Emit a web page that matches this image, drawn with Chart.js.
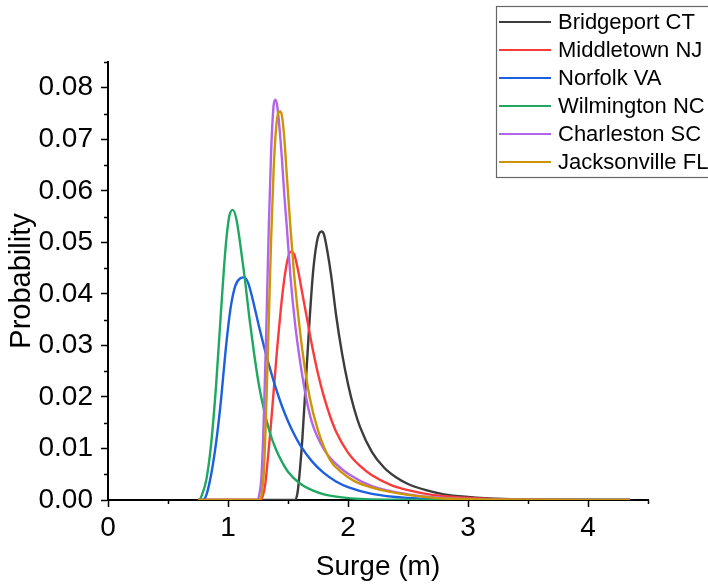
<!DOCTYPE html>
<html>
<head>
<meta charset="utf-8">
<script src="https://cdn.jsdelivr.net/npm/chart.js@4/dist/chart.umd.min.js"></script>
<style>
html,body{margin:0;padding:0;background:#fff;}
canvas{display:block;}
</style>
</head>
<body>
<canvas id="c" width="708" height="585"></canvas>
<script>
// ---- data ----
const seriesNames = ["Bridgeport CT", "Middletown NJ", "Norfolk VA", "Wilmington NC", "Charleston SC", "Jacksonville FL"];
const seriesColors = ["#3c3c3c", "#fa3b3b", "#1c60e0", "#20a862", "#b265ea", "#cc9505"];

const bridgeportX = [0.75, 1.56, 1.58, 1.60, 1.62, 1.65, 1.68, 1.71, 1.74, 1.76, 1.78, 1.80, 1.83, 1.86, 1.90, 1.95, 2.00, 2.05, 2.10, 2.20, 2.30, 2.40, 2.50, 2.65, 2.80, 3.00, 3.30, 3.70, 4.35];
const bridgeportY = [0, 0, 0.0015, 0.006, 0.012, 0.0235, 0.035, 0.0445, 0.050, 0.0517, 0.0521, 0.0515, 0.048, 0.0435, 0.036, 0.0285, 0.0225, 0.0178, 0.0142, 0.0093, 0.0063, 0.0044, 0.0031, 0.0019, 0.0011, 0.0006, 0.0002, 0.00005, 0];

const middletownX = [0.75, 1.27, 1.29, 1.31, 1.33, 1.35, 1.38, 1.41, 1.44, 1.47, 1.50, 1.525, 1.55, 1.58, 1.62, 1.66, 1.70, 1.75, 1.80, 1.85, 1.90, 2.00, 2.10, 2.20, 2.35, 2.50, 2.70, 3.00, 3.40, 4.35];
const middletownY = [0, 0, 0.0008, 0.003, 0.0075, 0.0125, 0.021, 0.0295, 0.037, 0.043, 0.047, 0.0482, 0.0478, 0.045, 0.040, 0.035, 0.030, 0.0245, 0.020, 0.0163, 0.0133, 0.0092, 0.0066, 0.0048, 0.003, 0.0019, 0.001, 0.0004, 0.0001, 0];

const norfolkX = [0.75, 0.79, 0.82, 0.86, 0.90, 0.94, 0.98, 1.02, 1.06, 1.10, 1.135, 1.17, 1.21, 1.25, 1.30, 1.35, 1.40, 1.45, 1.50, 1.55, 1.60, 1.70, 1.80, 1.90, 2.00, 2.20, 2.50, 2.80, 3.20, 4.35];
const norfolkY = [0, 0, 0.001, 0.005, 0.011, 0.019, 0.029, 0.037, 0.0415, 0.0430, 0.0432, 0.042, 0.0385, 0.0345, 0.0298, 0.0255, 0.0216, 0.0182, 0.0153, 0.0128, 0.0107, 0.0075, 0.0052, 0.0036, 0.0025, 0.0012, 0.0004, 0.00015, 0.00003, 0];

const wilmingtonX = [0.75, 0.76, 0.78, 0.82, 0.86, 0.90, 0.94, 0.98, 1.01, 1.04, 1.07, 1.10, 1.14, 1.18, 1.22, 1.26, 1.30, 1.35, 1.40, 1.45, 1.50, 1.60, 1.70, 1.80, 1.95, 2.10, 2.40, 2.80, 4.35];
const wilmingtonY = [0, 0, 0.0008, 0.004, 0.011, 0.022, 0.036, 0.049, 0.055, 0.0563, 0.0545, 0.050, 0.043, 0.035, 0.028, 0.022, 0.0175, 0.013, 0.0098, 0.0074, 0.0055, 0.0032, 0.0019, 0.0011, 0.0005, 0.0002, 0.00005, 0, 0];

const charlestonX = [0.75, 1.24, 1.26, 1.28, 1.30, 1.32, 1.34, 1.36, 1.38, 1.395, 1.41, 1.43, 1.45, 1.47, 1.49, 1.52, 1.56, 1.60, 1.65, 1.70, 1.80, 1.90, 2.00, 2.20, 2.50, 2.80, 3.20, 4.35];
const charlestonY = [0, 0, 0.001, 0.005, 0.017, 0.034, 0.053, 0.068, 0.0765, 0.0777, 0.0765, 0.072, 0.066, 0.059, 0.053, 0.0435, 0.034, 0.027, 0.020, 0.015, 0.0098, 0.0070, 0.0051, 0.0027, 0.0011, 0.0004, 0.0001, 0];

const jacksonvilleX = [0.75, 1.26, 1.28, 1.30, 1.32, 1.34, 1.36, 1.38, 1.40, 1.42, 1.435, 1.45, 1.47, 1.49, 1.52, 1.55, 1.58, 1.62, 1.68, 1.75, 1.85, 1.95, 2.05, 2.20, 2.50, 2.80, 3.20, 4.35];
const jacksonvilleY = [0, 0, 0.001, 0.006, 0.019, 0.035, 0.051, 0.064, 0.072, 0.0752, 0.0754, 0.0745, 0.070, 0.063, 0.053, 0.044, 0.037, 0.029, 0.020, 0.0135, 0.0078, 0.0053, 0.0037, 0.0024, 0.0010, 0.0003, 0.0001, 0];

const xTicks = [0, 1, 2, 3, 4];
const yTicks = [0, 0.01, 0.02, 0.03, 0.04, 0.05, 0.06, 0.07, 0.08];

// ---- build datasets ----
const xs = [bridgeportX, middletownX, norfolkX, wilmingtonX, charlestonX, jacksonvilleX];
const ys = [bridgeportY, middletownY, norfolkY, wilmingtonY, charlestonY, jacksonvilleY];
const datasets = seriesNames.map((name, i) => ({
  label: name,
  data: xs[i].map((x, j) => ({x: x, y: ys[i][j]})),
  borderColor: seriesColors[i],
  backgroundColor: seriesColors[i],
  borderWidth: 2.4,
  pointRadius: 0,
  fill: false,
  cubicInterpolationMode: 'monotone',
  order: seriesNames.length - i
}));

const FONT = "'Liberation Sans', Arial, sans-serif";

const minorTicks = {
  id: 'minorTicks',
  afterDraw(chart) {
    const ctx = chart.ctx;
    const xs_ = chart.scales.x, ys_ = chart.scales.y;
    const area = chart.chartArea;
    ctx.save();
    ctx.strokeStyle = '#000';
    ctx.lineWidth = 1.5;
    for (let v = 0.5; v <= 4.5 + 1e-9; v += 1) {
      const px = Math.round(xs_.getPixelForValue(v)) + 0.5;
      ctx.beginPath(); ctx.moveTo(px, area.bottom); ctx.lineTo(px, area.bottom + 4); ctx.stroke();
    }
    for (let v = 0.005; v <= 0.085 + 1e-9; v += 0.01) {
      const py = Math.round(ys_.getPixelForValue(v)) + 0.5;
      ctx.beginPath(); ctx.moveTo(area.left, py); ctx.lineTo(area.left - 4, py); ctx.stroke();
    }
    ctx.restore();
  }
};

const boxLegend = {
  id: 'boxLegend',
  afterDraw(chart) {
    const ctx = chart.ctx;
    ctx.save();
    ctx.fillStyle = '#fff';
    ctx.fillRect(496, 6, 240, 171);
    ctx.strokeStyle = '#666';
    ctx.lineWidth = 1.2;
    ctx.strokeRect(496.5, 6.5, 240, 171);
    ctx.font = '22px ' + FONT;
    ctx.textBaseline = 'middle';
    ctx.textAlign = 'left';
    chart.data.datasets.forEach((ds, i) => {
      const y = 22 + i * 28;
      ctx.strokeStyle = ds.borderColor;
      ctx.lineWidth = 2;
      ctx.beginPath(); ctx.moveTo(499, y); ctx.lineTo(551, y); ctx.stroke();
      ctx.fillStyle = '#000';
      ctx.fillText(ds.label, 558, y + 1);
    });
    ctx.restore();
  }
};

new Chart(document.getElementById('c'), {
  type: 'line',
  data: { datasets: datasets },
  options: {
    responsive: false,
    animation: false,
    layout: { padding: { left: 0, right: 60, top: 62, bottom: 0 } },
    plugins: { legend: { display: false }, tooltip: { enabled: false } },
    scales: {
      x: {
        type: 'linear',
        min: 0, max: 4.5,
        afterFit(scale) { scale.height = 85; },
        afterBuildTicks(scale) { scale.ticks = xTicks.map(v => ({value: v})); },
        ticks: { font: { family: FONT, size: 28 }, color: '#000', padding: 4, maxRotation: 0,
                 callback: v => String(v) },
        grid: { display: true, drawOnChartArea: false, drawTicks: true, tickLength: 7, tickColor: '#000', tickWidth: 1.5 },
        border: { display: true, color: '#000', width: 2 },
        title: { display: true, text: 'Surge (m)', color: '#000', font: { family: FONT, size: 28 }, padding: { top: 0, bottom: 1 } }
      },
      y: {
        type: 'linear',
        min: 0, max: 0.085,
        afterFit(scale) { scale.width = 108; },
        afterBuildTicks(scale) { scale.ticks = yTicks.map(v => ({value: v})); },
        ticks: { font: { family: FONT, size: 28 }, color: '#000', padding: 8,
                 callback: v => Number(v).toFixed(2) },
        grid: { display: true, drawOnChartArea: false, drawTicks: true, tickLength: 7, tickColor: '#000', tickWidth: 1.5 },
        border: { display: true, color: '#000', width: 2 },
        title: { display: true, text: 'Probability', color: '#000', font: { family: FONT, size: 29 }, padding: { top: 5, bottom: 0 } }
      }
    }
  },
  plugins: [minorTicks, boxLegend]
});
</script>
</body>
</html>
